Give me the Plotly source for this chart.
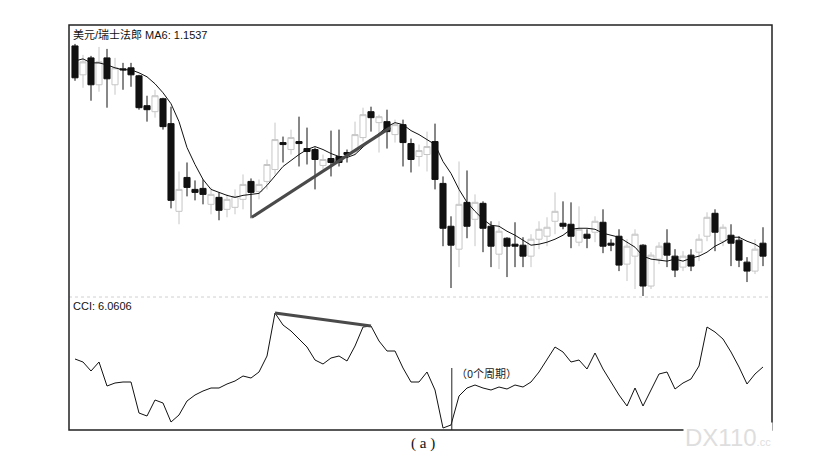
import plotly.graph_objects as go

# ---- data ----
idx = list(range(87))

open_ = [1.1945, 1.1887, 1.1921, 1.1867, 1.1921, 1.1867, 1.1899, 1.1901, 1.1885, 1.1825,
         1.1813, 1.1839, 1.1789, 1.1613, 1.1681, 1.1657, 1.1659, 1.1627, 1.1641, 1.1617,
         1.1621, 1.1637, 1.1673, 1.1653, 1.1673, 1.1697, 1.1751, 1.1737, 1.1753, 1.1739,
         1.1737, 1.1705, 1.1719, 1.1723, 1.1731, 1.1733, 1.1761, 1.1813, 1.1791, 1.1793,
         1.1767, 1.1787, 1.1749, 1.1723, 1.1727, 1.1753, 1.1669, 1.1583, 1.1537, 1.1631,
         1.1597, 1.1629, 1.1583, 1.1527, 1.1559, 1.1547, 1.1545, 1.1523, 1.1557, 1.1563,
         1.1593, 1.1589, 1.1587, 1.1551, 1.1567, 1.1571, 1.1591, 1.1549, 1.1563, 1.1507,
         1.1523, 1.1545, 1.1463, 1.1517, 1.1549, 1.1523, 1.1501, 1.1525, 1.1531, 1.1563,
         1.1609, 1.1553, 1.1565, 1.1555, 1.1511, 1.1493, 1.1549]

high = [1.1949, 1.1927, 1.1925, 1.1943, 1.1939, 1.1921, 1.1911, 1.1911, 1.1887, 1.1845,
        1.1857, 1.1841, 1.1823, 1.1693, 1.1711, 1.1675, 1.1677, 1.1661, 1.1651, 1.1647,
        1.1657, 1.1687, 1.1679, 1.1677, 1.1717, 1.1791, 1.1763, 1.1777, 1.1803, 1.1781,
        1.1741, 1.1727, 1.1775, 1.1777, 1.1737, 1.1793, 1.1821, 1.1823, 1.1807, 1.1817,
        1.1797, 1.1797, 1.1759, 1.1747, 1.1773, 1.1789, 1.1683, 1.1603, 1.1713, 1.1695,
        1.1647, 1.1633, 1.1593, 1.1593, 1.1561, 1.1591, 1.1561, 1.1567, 1.1593, 1.1601,
        1.1651, 1.1633, 1.1631, 1.1623, 1.1577, 1.1603, 1.1617, 1.1557, 1.1577, 1.1557,
        1.1577, 1.1547, 1.1531, 1.1551, 1.1577, 1.1537, 1.1533, 1.1537, 1.1567, 1.1611,
        1.1617, 1.1587, 1.1587, 1.1563, 1.1521, 1.1557, 1.1581]

low = [1.1875, 1.1861, 1.1835, 1.1853, 1.1821, 1.1847, 1.1857, 1.1863, 1.1817, 1.1793,
       1.1801, 1.1777, 1.1619, 1.1587, 1.1643, 1.1635, 1.1627, 1.1607, 1.1595, 1.1601,
       1.1607, 1.1617, 1.1599, 1.1637, 1.1657, 1.1687, 1.1711, 1.1727, 1.1703, 1.1707,
       1.1657, 1.1697, 1.1683, 1.1703, 1.1711, 1.1727, 1.1753, 1.1773, 1.1731, 1.1739,
       1.1751, 1.1703, 1.1691, 1.1703, 1.1693, 1.1657, 1.1543, 1.1459, 1.1501, 1.1559,
       1.1543, 1.1531, 1.1501, 1.1497, 1.1481, 1.1501, 1.1501, 1.1501, 1.1537, 1.1543,
       1.1567, 1.1577, 1.1539, 1.1543, 1.1539, 1.1551, 1.1529, 1.1533, 1.1493, 1.1473,
       1.1457, 1.1443, 1.1457, 1.1507, 1.1501, 1.1481, 1.1493, 1.1493, 1.1513, 1.1553,
       1.1533, 1.1543, 1.1503, 1.1501, 1.1471, 1.1487, 1.1503]

close = [1.1881, 1.1913, 1.1867, 1.1913, 1.1879, 1.1901, 1.1897, 1.1887, 1.1821, 1.1817,
         1.1845, 1.1783, 1.1635, 1.1657, 1.1661, 1.1651, 1.1647, 1.1647, 1.1615, 1.1637,
         1.1643, 1.1667, 1.1651, 1.1667, 1.1707, 1.1757, 1.1747, 1.1761, 1.1749, 1.1733,
         1.1717, 1.1717, 1.1711, 1.1711, 1.1727, 1.1767, 1.1807, 1.1801, 1.1803, 1.1773,
         1.1787, 1.1751, 1.1717, 1.1735, 1.1743, 1.1677, 1.1579, 1.1545, 1.1627, 1.1583,
         1.1631, 1.1579, 1.1543, 1.1573, 1.1543, 1.1543, 1.1523, 1.1557, 1.1577, 1.1581,
         1.1613, 1.1583, 1.1563, 1.1577, 1.1559, 1.1593, 1.1543, 1.1545, 1.1505, 1.1543,
         1.1567, 1.1463, 1.1525, 1.1543, 1.1525, 1.1495, 1.1523, 1.1503, 1.1557, 1.1601,
         1.1571, 1.1581, 1.1549, 1.1515, 1.1493, 1.1537, 1.1523]

ma6 = [1.1915, 1.1919, 1.1911, 1.1911, 1.1907, 1.1901, 1.1897, 1.1897, 1.1891, 1.1883,
       1.1869, 1.1851, 1.1829, 1.1793, 1.1741, 1.1707, 1.1677, 1.1657, 1.1651, 1.1645,
       1.1641, 1.1645, 1.1647, 1.1649, 1.1665, 1.1683, 1.1703, 1.1715, 1.1727, 1.1737,
       1.1743, 1.1737, 1.1729, 1.1723, 1.1721, 1.1727, 1.1743, 1.1757, 1.1769, 1.1783,
       1.1791, 1.1787, 1.1775, 1.1767, 1.1757, 1.1747, 1.1713, 1.1689, 1.1657, 1.1631,
       1.1613, 1.1597, 1.1585, 1.1583, 1.1573, 1.1565, 1.1555, 1.1545, 1.1547, 1.1551,
       1.1557, 1.1565, 1.1577, 1.1579, 1.1579, 1.1577, 1.1569, 1.1565, 1.1561, 1.1551,
       1.1541, 1.1523, 1.1517, 1.1515, 1.1513, 1.1517, 1.1513, 1.1519, 1.1523, 1.1531,
       1.1543, 1.1551, 1.1561, 1.1561, 1.1553, 1.1547, 1.1537]

cci = [38, 26, -10, 26, -70, -58, -54, -54, -178, -190,
       -126, -138, -214, -186, -130, -106, -90, -78, -78, -62,
       -50, -30, -38, -14, 50, 222, 174, 150, 118, 86,
       34, 18, 42, 50, 30, 90, 166, 170, 110, 70,
       70, 2, -54, -54, -14, -86, -238, -226, -110, -78,
       -66, -78, -86, -74, -82, -66, -74, -54, -14, 34,
       86, 66, 26, 34, -2, 62, -2, -54, -106, -150,
       -78, -150, -86, -22, -14, -82, -58, -42, 10, 166,
       146, 118, 66, 6, -62, -22, 6.0606]

price_trend_x = [22.1, 39.4]
price_trend_y = [1.1601, 1.1781]
cci_trend_x = [25, 37]
cci_trend_y = [222, 170]
marker_x = 47.1          # "0个周期" marker
marker_top = 2

title_text = "美元/瑞士法郎 MA6: 1.1537"
cci_text = "CCI: 6.0606"
period_text = "（0个周期）"
caption_text = "( a )"

# ---- figure ----
# the page body has an 8px default margin; positions below are screen pixels
OFF = 8
W, H = 817 - OFF, 459 - OFF
L, R, T, B = 69, 772, 25, 430          # plot frame on screen
split = 297
split_frac = (B - split) / (B - T)


def px(x):
    return (x - L) / (R - L)


def py(y):
    return (B - y) / (B - T)


fig = go.Figure()
fig.add_trace(go.Candlestick(
    x=idx, open=open_, high=high, low=low, close=close,
    increasing=dict(line=dict(color="#c6c6c6", width=1), fillcolor="white"),
    decreasing=dict(line=dict(color="#111111", width=1), fillcolor="#111111"),
    whiskerwidth=0, xaxis="x", yaxis="y", showlegend=False, hoverinfo="skip"))
fig.add_trace(go.Scatter(x=idx, y=ma6, mode="lines", xaxis="x", yaxis="y",
                         line=dict(color="#111111", width=1), showlegend=False))
fig.add_trace(go.Scatter(x=price_trend_x, y=price_trend_y, mode="lines", xaxis="x", yaxis="y",
                         line=dict(color="#4a4a4a", width=3), showlegend=False))
fig.add_trace(go.Scatter(x=idx, y=cci, mode="lines", xaxis="x2", yaxis="y2",
                         line=dict(color="#111111", width=1), showlegend=False))
fig.add_trace(go.Scatter(x=cci_trend_x, y=cci_trend_y, mode="lines", xaxis="x2", yaxis="y2",
                         line=dict(color="#4a4a4a", width=3), showlegend=False))

xr = [-0.75, 87.125]
fig.update_layout(
    width=W, height=H,
    margin=dict(l=L - OFF, r=817 - R, t=T - OFF, b=459 - B, pad=0),
    paper_bgcolor="white", plot_bgcolor="white",
    boxgap=0.2, boxgroupgap=0.05,
    xaxis=dict(domain=[0, 1], range=xr, visible=False, anchor="y",
               rangeslider=dict(visible=False)),
    xaxis2=dict(domain=[0, 1], range=xr, visible=False, anchor="y2"),
    yaxis=dict(domain=[split_frac, 1], range=[1.1441, 1.1987], visible=False),
    yaxis2=dict(domain=[0, split_frac], range=[-246, 286], visible=False),
    shapes=[
        dict(type="line", xref="paper", yref="paper", x0=0, x1=1,
             y0=split_frac, y1=split_frac, line=dict(color="#d0d0d0", width=1, dash="dot")),
        dict(type="rect", xref="paper", yref="paper", x0=0, x1=1, y0=0, y1=1,
             line=dict(color="#222222", width=1.5)),
        dict(type="line", xref="x2", yref="y2", x0=marker_x, x1=marker_x,
             y0=marker_top, y1=-246, line=dict(color="#222222", width=1)),
    ],
    annotations=[
        dict(text=title_text, xref="paper", yref="paper", x=px(71), y=py(34),
             xanchor="left", yanchor="middle", showarrow=False,
             font=dict(family="Liberation Sans, Noto Sans CJK SC", size=11, color="#111111")),
        dict(text=cci_text, xref="paper", yref="paper", x=px(71), y=py(305.5),
             xanchor="left", yanchor="middle", showarrow=False,
             font=dict(family="Liberation Sans, Noto Sans CJK SC", size=11, color="#111111")),
        dict(text=period_text, xref="x2", yref="y2", x=47.4, y=-18,
             xanchor="left", yanchor="middle", showarrow=False,
             font=dict(family="Noto Sans CJK SC", size=11, color="#222222")),
        dict(text=caption_text, xref="paper", yref="paper", x=px(423), y=py(443),
             xanchor="center", yanchor="middle", showarrow=False,
             font=dict(family="Liberation Serif, Noto Sans CJK SC", size=15, color="#111111")),
        dict(text="DX110<span style='font-size:11px'>.cc</span>", xref="paper", yref="paper",
             x=px(728), y=py(437), xanchor="center", yanchor="middle", showarrow=False,
             bgcolor="white",
             font=dict(family="Liberation Sans", size=24, color="#dedede")),
    ],
)

fig.write_html("out.html")
